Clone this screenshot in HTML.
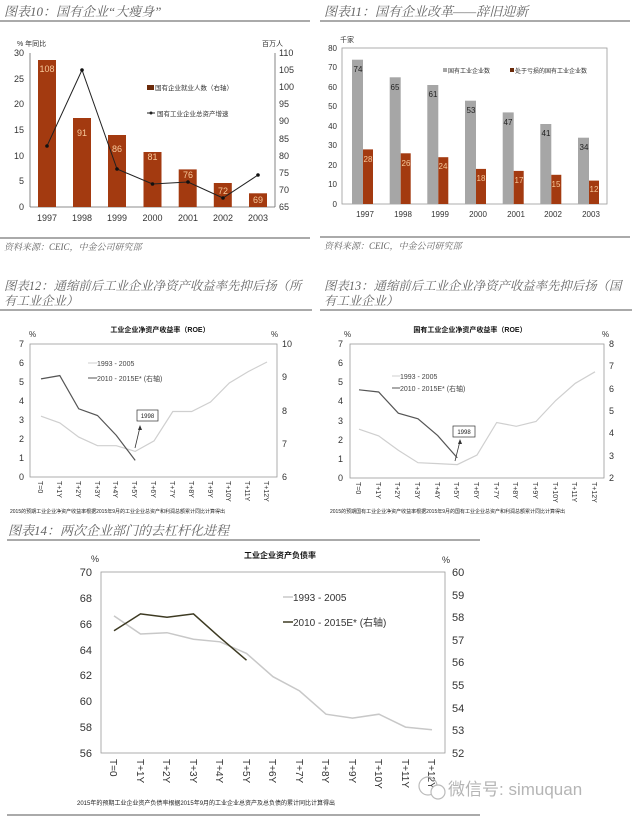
<!DOCTYPE html>
<html><head><meta charset="utf-8"><style>
html,body{margin:0;padding:0;background:#fff;}
svg{display:block;font-family:"Liberation Sans","Noto Sans CJK SC",sans-serif;}
.t{font-family:"Liberation Serif","Noto Serif CJK SC",serif;font-style:italic;fill:#666;font-size:13px;}
.t2{font-family:"Liberation Serif","Noto Serif CJK SC",serif;font-style:italic;fill:#666;font-size:12.4px;}
.ax{font-size:9px;fill:#333;}
.ax2{font-size:11px;fill:#333;}
</style></head><body>
<svg width="640" height="818" viewBox="0 0 640 818" xmlns="http://www.w3.org/2000/svg">
<rect width="640" height="818" fill="#fff"/>
<!-- Chart 10 -->
<text class="t" x="4" y="16">图表10：国有企业“大瘦身”</text>
<line x1="0" y1="21" x2="310" y2="21" stroke="#555" stroke-width="1"/>
<text x="17" y="46" style="font-size:7px" fill="#333">% 年同比</text>
<text x="262" y="46" style="font-size:7px" fill="#333">百万人</text>
<g stroke="#666" stroke-width="0.8">
<line x1="30" y1="53" x2="30" y2="207"/><line x1="275" y1="53" x2="275" y2="207"/><line x1="30" y1="207" x2="275" y2="207"/></g>
<g class="ax" text-anchor="end">
<text x="24" y="210">0</text><text x="24" y="184">5</text><text x="24" y="159">10</text><text x="24" y="133">15</text><text x="24" y="107">20</text><text x="24" y="82">25</text><text x="24" y="56">30</text></g>
<g class="ax">
<text x="279" y="210">65</text><text x="279" y="193">70</text><text x="279" y="176">75</text><text x="279" y="159">80</text><text x="279" y="142">85</text><text x="279" y="124">90</text><text x="279" y="107">95</text><text x="279" y="90">100</text><text x="279" y="73">105</text><text x="279" y="56">110</text></g>
<g fill="#a33a10">
<rect x="38" y="60" width="18" height="147"/><rect x="73" y="118" width="18" height="89"/><rect x="108" y="135" width="18" height="72"/><rect x="143.5" y="152" width="18" height="55"/><rect x="178.7" y="169.4" width="18" height="37.6"/><rect x="213.8" y="183" width="18" height="24"/><rect x="249" y="193.3" width="18" height="13.7"/></g>
<g font-size="9" fill="#f7c99a" text-anchor="middle">
<text x="47" y="72">108</text><text x="82" y="136">91</text><text x="117" y="152">86</text><text x="152.5" y="160">81</text><text x="188" y="178">76</text><text x="223" y="194">72</text><text x="258" y="203">69</text></g>
<polyline points="47,146 82,70 117,169 152.5,184 188,182 223,198 258,175" fill="none" stroke="#222" stroke-width="1"/>
<g fill="#111"><circle cx="47" cy="146" r="1.8"/><circle cx="82" cy="70" r="1.8"/><circle cx="117" cy="169" r="1.8"/><circle cx="152.5" cy="184" r="1.8"/><circle cx="188" cy="182" r="1.8"/><circle cx="223" cy="198" r="1.8"/><circle cx="258" cy="175" r="1.8"/></g>
<g class="ax" text-anchor="middle">
<text x="47" y="221">1997</text><text x="82" y="221">1998</text><text x="117" y="221">1999</text><text x="152.5" y="221">2000</text><text x="188" y="221">2001</text><text x="223" y="221">2002</text><text x="258" y="221">2003</text></g>
<rect x="147" y="85" width="7" height="5" fill="#6b2a0a"/>
<text x="155" y="90" style="font-size:6.5px" fill="#333">国有企业就业人数（右轴）</text>
<line x1="147" y1="113" x2="155" y2="113" stroke="#222"/><circle cx="151" cy="113" r="1.5" fill="#222"/>
<text x="157" y="116" style="font-size:6.5px" fill="#333">国有工业企业总资产增速</text>
<line x1="0" y1="238" x2="310" y2="238" stroke="#555"/>
<text class="t" x="4" y="250" style="font-size:9px">资料来源：CEIC，中金公司研究部</text>

<!-- Chart 11 -->
<text class="t" x="324" y="16">图表11：国有企业改革——辞旧迎新</text>
<line x1="320" y1="21" x2="630" y2="21" stroke="#555"/>
<text x="340" y="42" style="font-size:7px" fill="#333">千家</text>
<rect x="342" y="48" width="265" height="156" fill="none" stroke="#999" stroke-width="0.8"/>
<g class="ax" text-anchor="end" style="font-size:8px">
<text x="337" y="207">0</text><text x="337" y="187">10</text><text x="337" y="168">20</text><text x="337" y="148">30</text><text x="337" y="129">40</text><text x="337" y="109">50</text><text x="337" y="90">60</text><text x="337" y="70">70</text><text x="337" y="51">80</text></g>
<g fill="#a6a6a6">
<rect x="352" y="59.7" width="11" height="144.3"/><rect x="389.7" y="77.3" width="11" height="126.7"/><rect x="427.3" y="85" width="11" height="119"/><rect x="465" y="100.7" width="11" height="103.3"/><rect x="502.7" y="112.4" width="11" height="91.6"/><rect x="540.3" y="124" width="11" height="80"/><rect x="578" y="137.7" width="11" height="66.3"/></g>
<g fill="#a33a10">
<rect x="363" y="149.4" width="10" height="54.6"/><rect x="400.7" y="153.3" width="10" height="50.7"/><rect x="438.3" y="157.2" width="10" height="46.8"/><rect x="476" y="168.9" width="10" height="35.1"/><rect x="513.7" y="170.9" width="10" height="33.1"/><rect x="551.3" y="174.8" width="10" height="29.2"/><rect x="589" y="180.6" width="10" height="23.4"/></g>
<g font-size="8" fill="#222" text-anchor="middle">
<text x="358" y="72">74</text><text x="395" y="90">65</text><text x="433" y="97">61</text><text x="471" y="113">53</text><text x="508" y="125">47</text><text x="546" y="136">41</text><text x="584" y="150">34</text></g>
<g font-size="8" fill="#f7c99a" text-anchor="middle">
<text x="368" y="162">28</text><text x="406" y="166">26</text><text x="443" y="169">24</text><text x="481" y="181">18</text><text x="519" y="183">17</text><text x="556" y="187">15</text><text x="594" y="192">12</text></g>
<g class="ax" text-anchor="middle" style="font-size:8px">
<text x="365" y="217">1997</text><text x="403" y="217">1998</text><text x="440" y="217">1999</text><text x="478" y="217">2000</text><text x="516" y="217">2001</text><text x="553" y="217">2002</text><text x="591" y="217">2003</text></g>
<rect x="443" y="68" width="4" height="4" fill="#a6a6a6"/>
<text x="448" y="73" style="font-size:6px" fill="#333">国有工业企业数</text>
<rect x="510" y="68" width="4" height="4" fill="#6b2a0a"/>
<text x="515" y="73" style="font-size:6px" fill="#333">处于亏损的国有工业企业数</text>
<line x1="320" y1="237" x2="630" y2="237" stroke="#555"/>
<text class="t" x="324" y="249" style="font-size:9px">资料来源：CEIC，中金公司研究部</text>

<!-- Chart 12 -->
<text class="t2" x="4" y="290">图表12：通缩前后工业企业净资产收益率先抑后扬（所</text>
<text class="t2" x="4" y="305">有工业企业）</text>
<line x1="0" y1="310" x2="312" y2="310" stroke="#555"/>
<text x="160" y="332" text-anchor="middle" style="font-size:7px;font-weight:bold" fill="#111">工业企业净资产收益率（ROE）</text>
<text x="29" y="337" style="font-size:8px" fill="#333">%</text>
<text x="271" y="337" style="font-size:8px" fill="#333">%</text>
<rect x="30" y="344" width="247" height="133" fill="none" stroke="#999" stroke-width="0.8"/>
<g class="ax" text-anchor="end">
<text x="24" y="480">0</text><text x="24" y="461">1</text><text x="24" y="442">2</text><text x="24" y="423">3</text><text x="24" y="404">4</text><text x="24" y="385">5</text><text x="24" y="366">6</text><text x="24" y="347">7</text></g>
<g class="ax"><text x="282" y="480">6</text><text x="282" y="447">7</text><text x="282" y="414">8</text><text x="282" y="380">9</text><text x="282" y="347">10</text></g>
<polyline points="41,416.2 59.8,422.9 78.7,437.1 97.5,445.7 116.3,445.7 135.2,451.4 154,440.9 172.8,411.5 191.7,411.5 210.5,402 229.3,383 248.2,371.6 267,362" fill="none" stroke="#cfcfcf" stroke-width="1.2"/>
<polyline points="41,378.9 59.8,375.6 78.7,408.8 97.5,415.5 116.3,435.4 135.2,460.4" fill="none" stroke="#555" stroke-width="1.2"/>
<line x1="88" y1="363" x2="97" y2="363" stroke="#cfcfcf"/><text x="97" y="366" style="font-size:7px" fill="#444">1993 - 2005</text>
<line x1="88" y1="378" x2="97" y2="378" stroke="#555"/><text x="97" y="381" style="font-size:7px" fill="#444">2010 - 2015E* (右轴)</text>
<rect x="137" y="410" width="21" height="11" fill="#fff" stroke="#333" stroke-width="0.7"/><text x="147.5" y="418" text-anchor="middle" style="font-size:6px" fill="#222">1998</text>
<line x1="135" y1="448" x2="140" y2="427" stroke="#333" stroke-width="0.8"/><polygon points="140,425 138,430 142,430" fill="#333"/>
<g class="ax" style="font-size:7px">
<text transform="translate(38,481) rotate(90)">T=0</text><text transform="translate(57,481) rotate(90)">T+1Y</text><text transform="translate(76,481) rotate(90)">T+2Y</text><text transform="translate(95,481) rotate(90)">T+3Y</text><text transform="translate(113,481) rotate(90)">T+4Y</text><text transform="translate(132,481) rotate(90)">T+5Y</text><text transform="translate(151,481) rotate(90)">T+6Y</text><text transform="translate(170,481) rotate(90)">T+7Y</text><text transform="translate(189,481) rotate(90)">T+8Y</text><text transform="translate(208,481) rotate(90)">T+9Y</text><text transform="translate(226,481) rotate(90)">T+10Y</text><text transform="translate(245,481) rotate(90)">T+11Y</text><text transform="translate(264,481) rotate(90)">T+12Y</text></g>
<text x="10" y="513" style="font-size:5px" fill="#222">2015的预期工业企业净资产收益率根据2015年9月的工业企业总资产和利润总额累计同比计算得出</text>

<!-- Chart 13 -->
<text class="t2" x="324" y="290">图表13：通缩前后工业企业净资产收益率先抑后扬（国</text>
<text class="t2" x="324" y="305">有工业企业）</text>
<line x1="320" y1="310" x2="632" y2="310" stroke="#555"/>
<text x="470" y="332" text-anchor="middle" style="font-size:7px;font-weight:bold" fill="#111">国有工业企业净资产收益率（ROE）</text>
<text x="344" y="337" style="font-size:8px" fill="#333">%</text>
<text x="602" y="337" style="font-size:8px" fill="#333">%</text>
<rect x="350" y="344" width="254" height="134" fill="none" stroke="#999" stroke-width="0.8"/>
<g class="ax" text-anchor="end">
<text x="343" y="481">0</text><text x="343" y="462">1</text><text x="343" y="443">2</text><text x="343" y="424">3</text><text x="343" y="404">4</text><text x="343" y="385">5</text><text x="343" y="366">6</text><text x="343" y="347">7</text></g>
<g class="ax"><text x="609" y="481">2</text><text x="609" y="459">3</text><text x="609" y="436">4</text><text x="609" y="414">5</text><text x="609" y="392">6</text><text x="609" y="369">7</text><text x="609" y="347">8</text></g>
<polyline points="359,429.2 378.7,435.9 398.3,450.2 418,462.7 437.7,463.6 457.3,464.6 477,455 496.7,422.5 516.3,426.3 536,421.5 555.7,400.5 575.3,383.3 595,371.8" fill="none" stroke="#cfcfcf" stroke-width="1.2"/>
<polyline points="359,389.8 378.7,392 398.3,413.2 418,418.8 437.7,435.6 457.3,457.9" fill="none" stroke="#555" stroke-width="1.2"/>
<line x1="392" y1="376" x2="400" y2="376" stroke="#cfcfcf"/><text x="400" y="379" style="font-size:7px" fill="#444">1993 - 2005</text>
<line x1="392" y1="388" x2="400" y2="388" stroke="#555"/><text x="400" y="391" style="font-size:7px" fill="#444">2010 - 2015E* (右轴)</text>
<rect x="453" y="426" width="22" height="11" fill="#fff" stroke="#333" stroke-width="0.7"/><text x="464" y="434" text-anchor="middle" style="font-size:6px" fill="#222">1998</text>
<line x1="455" y1="461" x2="460" y2="441" stroke="#333" stroke-width="0.8"/><polygon points="460,439 458,444 462,444" fill="#333"/>
<g class="ax" style="font-size:7px">
<text transform="translate(356,482) rotate(90)">T=0</text><text transform="translate(376,482) rotate(90)">T+1Y</text><text transform="translate(395,482) rotate(90)">T+2Y</text><text transform="translate(415,482) rotate(90)">T+3Y</text><text transform="translate(435,482) rotate(90)">T+4Y</text><text transform="translate(454,482) rotate(90)">T+5Y</text><text transform="translate(474,482) rotate(90)">T+6Y</text><text transform="translate(494,482) rotate(90)">T+7Y</text><text transform="translate(513,482) rotate(90)">T+8Y</text><text transform="translate(533,482) rotate(90)">T+9Y</text><text transform="translate(553,482) rotate(90)">T+10Y</text><text transform="translate(572,482) rotate(90)">T+11Y</text><text transform="translate(592,482) rotate(90)">T+12Y</text></g>
<text x="330" y="513" style="font-size:5px" fill="#222">2015的预期国有工业企业净资产收益率根据2015年9月的国有工业企业总资产和利润总额累计同比计算得出</text>

<!-- Chart 14 -->
<text class="t" x="8" y="535">图表14：两次企业部门的去杠杆化进程</text>
<line x1="7" y1="540" x2="480" y2="540" stroke="#555"/>
<text x="280" y="558" text-anchor="middle" style="font-size:8px;font-weight:bold" fill="#111">工业企业资产负债率</text>
<text x="91" y="562" style="font-size:9px" fill="#333">%</text>
<text x="442" y="563" style="font-size:9px" fill="#333">%</text>
<rect x="101" y="572" width="344" height="181" fill="none" stroke="#999" stroke-width="0.8"/>
<g class="ax2" text-anchor="end">
<text x="92" y="757">56</text><text x="92" y="731">58</text><text x="92" y="705">60</text><text x="92" y="679">62</text><text x="92" y="654">64</text><text x="92" y="628">66</text><text x="92" y="602">68</text><text x="92" y="576">70</text></g>
<g class="ax2">
<text x="452" y="757">52</text><text x="452" y="734">53</text><text x="452" y="712">54</text><text x="452" y="689">55</text><text x="452" y="666">56</text><text x="452" y="644">57</text><text x="452" y="621">58</text><text x="452" y="599">59</text><text x="452" y="576">60</text></g>
<polyline points="114,615.9 140.5,634 167,632.7 193.5,639.2 220,641.8 246.5,653.4 273,676.7 299.5,690.9 326,714.2 352.5,718.1 379,714.2 405.5,727.1 432,729.7" fill="none" stroke="#c8c8c8" stroke-width="1.5"/>
<polyline points="114,630.8 140.5,613.9 167,617.3 193.5,613.9 220,637.6 246.5,660.2" fill="none" stroke="#3d3a22" stroke-width="1.5"/>
<line x1="283" y1="597" x2="293" y2="597" stroke="#c8c8c8" stroke-width="1.5"/><text x="293" y="601" style="font-size:10px" fill="#333">1993 - 2005</text>
<line x1="283" y1="622" x2="293" y2="622" stroke="#3d3a22" stroke-width="1.5"/><text x="293" y="626" style="font-size:10px" fill="#333">2010 - 2015E* (右轴)</text>
<g class="ax2" style="font-size:10px">
<text transform="translate(110,759) rotate(90)">T=0</text><text transform="translate(137,759) rotate(90)">T+1Y</text><text transform="translate(163,759) rotate(90)">T+2Y</text><text transform="translate(190,759) rotate(90)">T+3Y</text><text transform="translate(216,759) rotate(90)">T+4Y</text><text transform="translate(243,759) rotate(90)">T+5Y</text><text transform="translate(269,759) rotate(90)">T+6Y</text><text transform="translate(296,759) rotate(90)">T+7Y</text><text transform="translate(322,759) rotate(90)">T+8Y</text><text transform="translate(349,759) rotate(90)">T+9Y</text><text transform="translate(375,759) rotate(90)">T+10Y</text><text transform="translate(402,759) rotate(90)">T+11Y</text><text transform="translate(428,759) rotate(90)">T+12Y</text></g>
<text x="77" y="805" style="font-size:6px" fill="#222">2015年的预期工业企业资产负债率根据2015年9月的工业企业总资产及总负债的累计同比计算得出</text>
<line x1="7" y1="815" x2="480" y2="815" stroke="#555"/>
<circle cx="428" cy="786" r="9" fill="none" stroke="#bbb" stroke-width="1.2"/>
<circle cx="438" cy="792" r="7" fill="#fff" stroke="#bbb" stroke-width="1.2"/>
<text x="448" y="795" style="font-size:17px" fill="#b5b5b5">微信号: simuquan</text>
</svg>
</body></html>
